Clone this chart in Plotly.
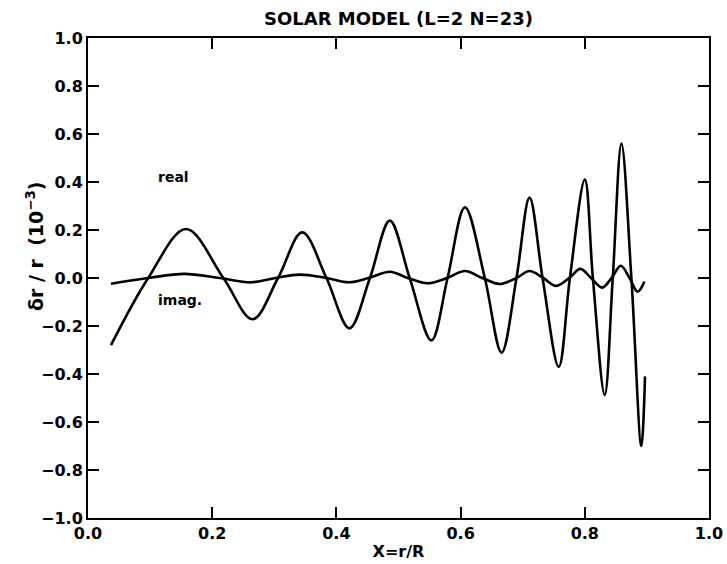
import plotly.graph_objects as go

# Real part
real_x = [0.037, 0.097, 0.158, 0.218, 0.265, 0.306, 0.345, 0.384, 0.421, 0.454,
          0.486, 0.518, 0.553, 0.579, 0.607, 0.639, 0.666, 0.690, 0.711, 0.732,
          0.758, 0.776, 0.800, 0.813, 0.832, 0.845, 0.859, 0.875, 0.891, 0.897]
real_y = [-0.28, 0.0, 0.204, 0.0, -0.172, 0.0, 0.19, 0.0, -0.21, 0.0,
          0.239, 0.0, -0.26, 0.0, 0.295, 0.0, -0.311, 0.0, 0.335, 0.0,
          -0.37, 0.0, 0.41, 0.0, -0.487, 0.0, 0.56, 0.0, -0.70, -0.41]

# Imaginary part
imag_x = [0.037, 0.097, 0.155, 0.212, 0.263, 0.302, 0.341, 0.384, 0.42, 0.452,
          0.486, 0.515, 0.547, 0.578, 0.607, 0.635, 0.663, 0.690, 0.711, 0.733,
          0.754, 0.775, 0.793, 0.810, 0.828, 0.843, 0.858, 0.872, 0.885, 0.896]
imag_y = [-0.024, 0.0, 0.017, 0.0, -0.018, 0.0, 0.014, 0.0, -0.018, 0.0,
          0.026, 0.0, -0.022, 0.0, 0.029, 0.0, -0.025, 0.0, 0.029, 0.0,
          -0.033, 0.0, 0.038, 0.0, -0.04, 0.0, 0.051, 0.0, -0.057, -0.015]

x_ticks = [0.0, 0.2, 0.4, 0.6, 0.8, 1.0]
y_ticks = [-1.0, -0.8, -0.6, -0.4, -0.2, 0.0, 0.2, 0.4, 0.6, 0.8, 1.0]

FONT = "DejaVu Sans"

fig = go.Figure()
fig.add_trace(go.Scatter(x=real_x, y=real_y, mode="lines", name="real",
                         line=dict(color="black", width=2.6, shape="spline", smoothing=1.0)))
fig.add_trace(go.Scatter(x=imag_x, y=imag_y, mode="lines", name="imag.",
                         line=dict(color="black", width=2.6, shape="spline", smoothing=1.0)))

axis_common = dict(showgrid=False, zeroline=False, showline=True, linecolor="black",
                   linewidth=2, mirror="ticks", ticks="inside", ticklen=11,
                   tickwidth=2, tickcolor="black", automargin=False,
                   tickfont=dict(family=FONT, size=16, color="black", weight="bold"))

fig.update_xaxes(range=[0, 1], tickvals=x_ticks,
                 ticktext=[f"{v:.1f}" for v in x_ticks],
                 title=dict(text="X=r/R", standoff=4,
                            font=dict(family=FONT, size=16, color="black", weight="bold")),
                 **axis_common)
fig.update_yaxes(range=[-1, 1], tickvals=y_ticks,
                 ticktext=[f"{v:.1f}".replace("-", "\u2212") for v in y_ticks],
                 **axis_common)

fig.add_annotation(x=-0.085, y=0.565, xref="paper", yref="paper",
                   xanchor="center", yanchor="middle",
                   text="δr / r  (10<sup>\u22123</sup>)", textangle=-90, showarrow=False,
                   font=dict(family=FONT, size=19, color="black", weight="bold"))
fig.add_annotation(x=0.137, y=0.42, text="real", showarrow=False,
                   font=dict(family=FONT, size=14, color="black", weight="bold"))
fig.add_annotation(x=0.148, y=-0.092, text="imag.", showarrow=False,
                   font=dict(family=FONT, size=14, color="black", weight="bold"))

fig.update_layout(
    width=727, height=564,
    margin=dict(l=88, r=18, t=38, b=46, autoexpand=False),
    paper_bgcolor="white", plot_bgcolor="white",
    showlegend=False,
    title=dict(text="SOLAR MODEL (L=2 N=23)", x=0.5, xanchor="center",
               xref="paper", y=1 - 19 / 564, yanchor="middle", automargin=False,
               font=dict(family=FONT, size=18, color="black", weight="bold")),
)

fig.write_html("out.html", config={"displayModeBar": False},
               post_script="document.body.style.margin='0';document.body.style.padding='0';")
